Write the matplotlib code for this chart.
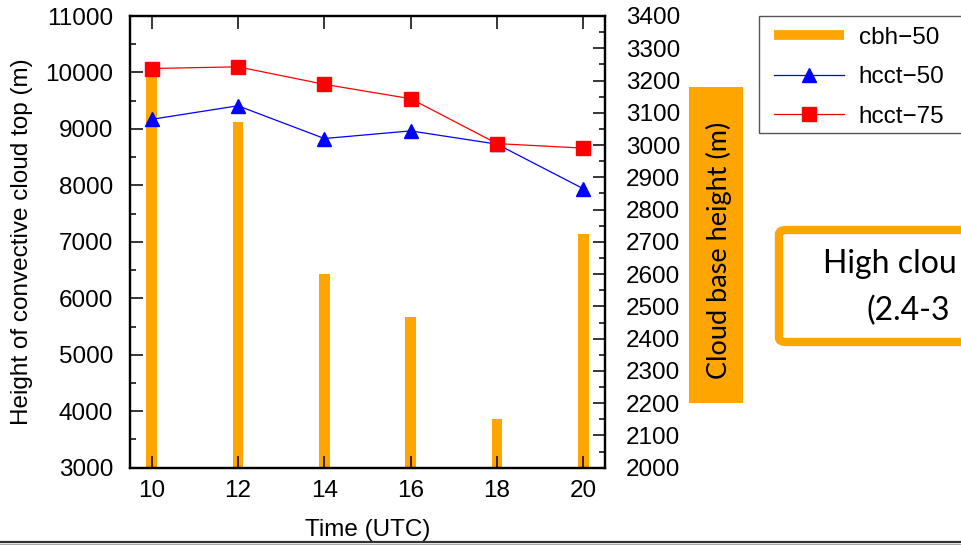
from matplotlib import pyplot as plt, patches as pa, lines as ml
from matplotlib.ticker import MultipleLocator

# Data
hours = [10, 12, 14, 16, 18, 20]
cbh_50 = [3215, 3070, 2600, 2467, 2150, 2725]
hcct_50 = [9170, 9410, 8830, 8965, 8730, 7940]
hcct_75 = [10070, 10100, 9790, 9535, 8740, 8660]
legend_labels = ['cbh\u221250', 'hcct\u221250', 'hcct\u221275']

# Plot design
plt.rcParams['font.family'] = ['Liberation Sans', 'DejaVu Sans']
plt.rcParams['font.size'] = 17.5
orange = '#FFA500'

W, H = 961, 545
fig = plt.figure(figsize=(W / 100, H / 100), dpi=100)
px = lambda x, y: (x / W, 1 - y / H)

ax = fig.add_axes([130 / W, 1 - 467.7 / H, (605 - 130) / W, (467.7 - 16) / H])
ax2 = ax.twinx()

# Bars on the right axis, lines on the left axis drawn on top
ax2.bar(hours, cbh_50, width=0.25, bottom=0, color=orange, zorder=1)
ax.plot(hours, hcct_50, color='blue', lw=0.9, marker='^', ms=10, label=legend_labels[1])
ax.plot(hours, hcct_75, color='red', lw=0.9, marker='s', ms=9.5, label=legend_labels[2])
ax.set_zorder(ax2.get_zorder() + 1)
ax.patch.set_visible(False)

ax.set_xlim(9.5, 20.5)
ax.set_ylim(3000, 11000)
ax2.set_ylim(2000, 3400)
ax.set_xticks(hours)
ax.yaxis.set_major_locator(MultipleLocator(1000))
ax.yaxis.set_minor_locator(MultipleLocator(500))
ax2.yaxis.set_major_locator(MultipleLocator(100))
ax2.yaxis.set_minor_locator(MultipleLocator(50))

for a in (ax, ax2):
    for spine in a.spines.values():
        spine.set_linewidth(1.6)
    a.tick_params(which='major', direction='in', length=9, width=1.1, labelsize=17.5)
    a.tick_params(which='minor', direction='in', length=4, width=1.1)
ax.tick_params(axis='x', top=True, pad=9)
ax.tick_params(axis='y', which='both', left=True, right=False, pad=12)
ax2.tick_params(axis='y', which='both', pad=15)

ax.set_xlabel('Time (UTC)', fontsize=17.5, labelpad=12)
ax.set_ylabel('Height of convective cloud top (m)', fontsize=17.5, labelpad=9)

# Legend (frame drawn separately, it runs off the right edge)
handles = [ml.Line2D([], [], color=orange, lw=7, solid_capstyle='butt'),
           ml.Line2D([], [], color='blue', lw=0.9, marker='^', ms=10),
           ml.Line2D([], [], color='red', lw=0.9, marker='s', ms=9.5)]
leg = fig.legend(handles, legend_labels, loc='upper left', bbox_to_anchor=px(765, 18),
                 fontsize=17.5, handlelength=2.9, handletextpad=0.6, labelspacing=0.72,
                 borderpad=0.35, borderaxespad=0, frameon=False)
fig.patches.append(pa.Rectangle(px(759, 133), 220 / W, 117 / H, transform=fig.transFigure,
                                facecolor='white', edgecolor='#555555', lw=1, zorder=-1))

# Right axis label in an orange box
fig.patches.append(pa.Rectangle(px(689, 403), 54 / W, 316 / H, transform=fig.transFigure,
                                facecolor=orange, edgecolor='none'))
fig.text(*px(719, 250), 'Cloud base height (m)', rotation=90, ha='center', va='center',
         fontsize=19.5, family=['Lato', 'DejaVu Sans'])

# Annotation box on the right (cropped by the figure edge, as in the original)
fig.patches.append(pa.FancyBboxPatch(px(779, 342), 400 / W, 112 / H, transform=fig.transFigure,
                                     boxstyle='round,pad=0,rounding_size=0.008',
                                     facecolor='white', edgecolor=orange, lw=6))
fig.text(*px(823, 264), 'High clou', ha='left', va='center', fontsize=23,
         family=['Lato', 'DejaVu Sans'])
fig.text(*px(866, 311), '(2.4-3', ha='left', va='center', fontsize=23,
         family=['Lato', 'DejaVu Sans'])

# Rule at the bottom
fig.add_artist(ml.Line2D([0, 1], [1 - 541.5 / H] * 2, transform=fig.transFigure,
                         color='#333333', lw=1.6))
fig.add_artist(ml.Line2D([0, 1], [1 - 544 / H] * 2, transform=fig.transFigure,
                         color='#aaaaaa', lw=0.8))

fig.savefig('out.png', dpi=100)
